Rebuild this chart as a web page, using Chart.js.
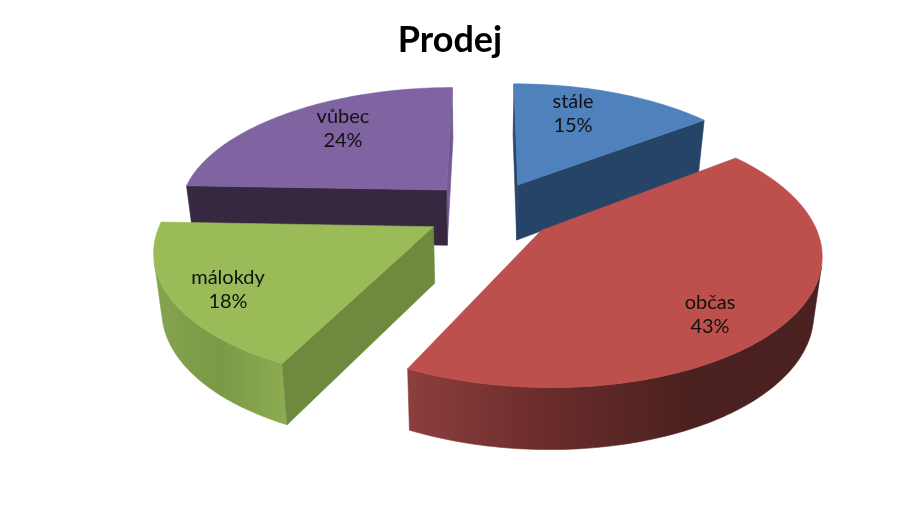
<!DOCTYPE html>
<html>
<head>
<meta charset="utf-8">
<title>Prodej</title>
<script src="https://cdn.jsdelivr.net/npm/chart.js@4/dist/chart.umd.min.js"></script>
<style>
  body { margin: 0; background: #fff; }
  canvas { display: block; }
</style>
</head>
<body>
<canvas id="pie" width="900" height="525"></canvas>
<script>
// chart data, the labels show these shares rounded
const categories = ['stále', 'občas', 'málokdy', 'vůbec'];
const shares = [14.6, 42.6, 18.3, 24.4];

// colours per slice
const topColors = ['#4f81bd', '#bd4f4c', '#9bbb59', '#8064a2'];
const startCutColors = ['#264467', '#4a1f1f', '#6f8a3f', '#352840'];
const endCutColors = ['#264467', '#4a1f1f', '#6f8a3f', '#745993'];
const sideStops = [
    ['#264467', '#264467'],
    ['#8c3f3d', '#6a2c2b', '#4c2120', '#4a2020'],
    ['#86a44c', '#7b9946', '#8cab50'],
    ['#352840', '#352840']
];

// fake 3D: perspective projection of the flat pie
const view = { cx: 490, cy: 211, a: 269, b: 125, p: 0.16, depth: 56, vx: 480, k: 0.975 };

function project(X, Y) {
    const w = 1 - view.p * Y;
    return { x: view.cx + view.a * X / w, y: view.cy + view.b * Y / w, w: w };
}

function drop(pt) {
    return {
        x: view.vx + (pt.x - view.vx) * view.k,
        y: pt.y + view.depth / Math.sqrt(pt.w)
    };
}

function fillPoly(ctx, pts, fill) {
    ctx.beginPath();
    pts.forEach((p, i) => i ? ctx.lineTo(p.x, p.y) : ctx.moveTo(p.x, p.y));
    ctx.closePath();
    ctx.fillStyle = fill;
    ctx.strokeStyle = fill;
    ctx.lineWidth = 0.6;
    ctx.fill();
    ctx.stroke();
}

// a wall under the edge p->q shows only when it faces the viewer
function facesViewer(p, q) {
    const pb = drop(p);
    return (q.x - p.x) * (pb.y - p.y) - (q.y - p.y) * (pb.x - p.x) < 0;
}

function drawWall(ctx, pts, fill) {
    fillPoly(ctx, [...pts, ...pts.map(drop).reverse()], fill);
}

const pie3d = {
    id: 'pie3d',
    beforeDatasetsDraw(chart, args, opts) {
        const ctx = chart.ctx;
        const arcs = chart.getDatasetMeta(0).data;
        const slices = arcs.map((arc, i) => {
            const R = arc.outerRadius;
            const mid = (arc.startAngle + arc.endAngle) / 2;
            const ex = Math.cos(mid) * arc.options.offset / R;
            const ey = Math.sin(mid) * arc.options.offset / R;
            const rim = [];
            const n = Math.ceil((arc.endAngle - arc.startAngle) / 0.02);
            for (let s = 0; s <= n; s++) {
                const t = arc.startAngle + (arc.endAngle - arc.startAngle) * s / n;
                rim.push(project(ex + Math.cos(t), ey + Math.sin(t)));
            }
            return { i: i, ey: ey, apex: project(ex, ey), rim: rim };
        });

        // far slices first
        slices.sort((a, b) => a.ey - b.ey);
        slices.forEach(s => {
            const xs = s.rim.map(p => p.x);
            const grad = ctx.createLinearGradient(Math.min(...xs), 0, Math.max(...xs), 0);
            const stops = sideStops[s.i];
            stops.forEach((c, j) => grad.addColorStop(j / (stops.length - 1), c));

            // one polygon per visible run of the rim, so no seams show
            let run = [];
            for (let j = 0; j < s.rim.length - 1; j++) {
                if (facesViewer(s.rim[j], s.rim[j + 1])) {
                    if (!run.length) run.push(s.rim[j]);
                    run.push(s.rim[j + 1]);
                } else if (run.length) {
                    drawWall(ctx, run, grad);
                    run = [];
                }
            }
            if (run.length) drawWall(ctx, run, grad);

            const first = s.rim[0], last = s.rim[s.rim.length - 1];
            if (facesViewer(last, s.apex)) drawWall(ctx, [last, s.apex], endCutColors[s.i]);
            if (facesViewer(s.apex, first)) drawWall(ctx, [s.apex, first], startCutColors[s.i]);
            fillPoly(ctx, [s.apex, ...s.rim], topColors[s.i]);
        });

        // labels
        ctx.fillStyle = '#111';
        ctx.font = opts.font;
        ctx.textAlign = 'center';
        ctx.textBaseline = 'middle';
        categories.forEach((name, i) => {
            const at = opts.labelAnchors[i];
            ctx.fillText(name, at[0], at[1] - 12);
            ctx.fillText(Math.round(shares[i]) + '%', at[0], at[1] + 12);
        });
        return false; // the flat arcs are replaced by the 3D ones
    }
};

new Chart(document.getElementById('pie'), {
    type: 'pie',
    data: {
        labels: categories,
        datasets: [{
            data: shares,
            backgroundColor: topColors,
            borderWidth: 0,
            offset: 48
        }]
    },
    options: {
        responsive: false,
        animation: false,
        radius: 200,
        plugins: {
            legend: { display: false },
            tooltip: { enabled: false },
            title: {
                display: true,
                text: 'Prodej',
                color: '#000',
                font: { family: 'Lato', weight: 'bold', size: 36 },
                padding: { top: 19, bottom: 10 }
            },
            pie3d: {
                font: '20px Lato',
                labelAnchors: [[573, 114], [710, 315], [228, 290], [343, 129]]
            }
        }
    },
    plugins: [pie3d]
});
</script>
</body>
</html>
